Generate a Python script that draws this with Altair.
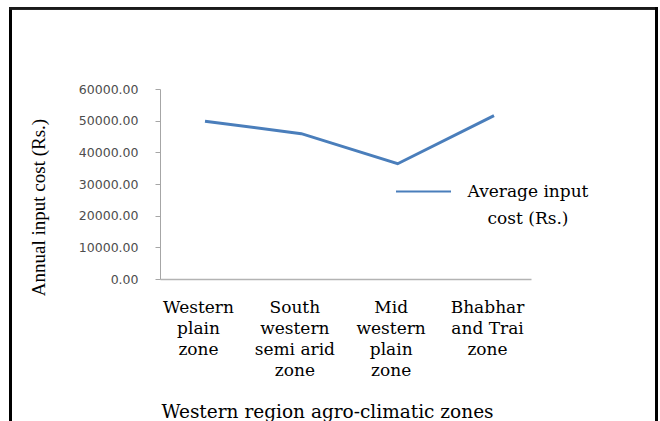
import altair as alt
import pandas as pd

# Agro-climatic zones of the western region (label lines as printed under each point)
zone_lines = [
    ["Western", "plain", "zone"],
    ["South", "western", "semi arid", "zone"],
    ["Mid", "western", "plain", "zone"],
    ["Bhabhar", "and Trai", "zone"],
]
zones = [" ".join(z) for z in zone_lines]

# Average annual input cost per zone (Rs.)
avg_input_cost = [49800, 45900, 36400, 51600]

series_lines = ["Average input", "cost (Rs.)"]
series_name = " ".join(series_lines)

y_ticks = [0, 10000, 20000, 30000, 40000, 50000, 60000]

df = pd.DataFrame({
    "pos": list(range(len(zones))),
    "zone": zones,
    "cost": avg_input_cost,
    "series": series_name,
})

SERIF = "DejaVu Serif"
BLUE = "#4a7ebb"

x_label_expr = "[" + ",".join(
    "[" + ",".join("'" + s + "'" for s in z) + "]" for z in zone_lines
) + "][datum.value]"
legend_label_expr = "[" + ",".join("'" + s + "'" for s in series_lines) + "]"

line = alt.Chart(df).mark_line(strokeWidth=3).encode(
    x=alt.X(
        "pos:Q",
        scale=alt.Scale(domain=[-0.467, 3.384], nice=False, zero=False),
        axis=alt.Axis(
            values=list(range(len(zones))),
            labelExpr=x_label_expr,
            ticks=False,
            grid=False,
            domainColor="#b3b3b3",
            domainWidth=1.5,
            labelFont=SERIF,
            labelFontSize=17,
            labelColor="#000000",
            labelBaseline="alphabetic",
            labelAlign="center",
            labelPadding=33,
            labelLineHeight=21.3,
            labelOffset=-7,
            labelOverlap=False,
            labelFlush=False,
            title="Western region agro-climatic zones",
            titleFont=SERIF,
            titleFontSize=18.5,
            titleFontWeight="normal",
            titleColor="#000000",
            titleX=167,
            titleY=138,
            titleAlign="center",
            titleBaseline="alphabetic",
        ),
    ),
    y=alt.Y(
        "cost:Q",
        scale=alt.Scale(domain=[0, 60000], nice=False),
        axis=alt.Axis(
            values=y_ticks,
            format=".2f",
            grid=False,
            domainColor="#a6a6a6",
            tickColor="#a6a6a6",
            tickSize=5,
            labelFont="DejaVu Sans",
            labelFontSize=12.5,
            labelColor="#4d4d4d",
            labelPadding=17,
            title="Annual input cost (Rs.)",
            titleFont="Liberation Serif",
            titleFontSize=19,
            titleFontWeight="normal",
            titleColor="#000000",
            titleX=-116,
            titleY=118,
            titleAngle=270,
            titleAlign="center",
            titleBaseline="alphabetic",
        ),
    ),
    color=alt.Color(
        "series:N",
        scale=alt.Scale(range=[BLUE]),
        legend=alt.Legend(
            title=None,
            orient="none",
            legendX=235,
            legendY=74,
            padding=0,
            symbolType="stroke",
            symbolSize=3025,
            symbolStrokeWidth=2,
            labelExpr=legend_label_expr,
            labelFont=SERIF,
            labelFontSize=17,
            labelColor="#000000",
            labelAlign="center",
            labelBaseline="middle",
            labelOffset=76,
            labelLimit=0,
        ),
    ),
)

# Black page frame around the figure
frame_left = alt.Chart(df).mark_rule(color="#000000", strokeWidth=3).encode(
    x=alt.value(-149.5), y=alt.value(-82), y2=alt.value(340)
)
frame_top = alt.Chart(df).mark_rule(color="#1a1a1a", strokeWidth=2.5).encode(
    x=alt.value(-151), x2=alt.value(498), y=alt.value(-80.8)
)
frame_right = alt.Chart(df).mark_rule(color="#000000", strokeWidth=3).encode(
    x=alt.value(496.5), y=alt.value(-82), y2=alt.value(340)
)

chart = alt.layer(line, frame_left, frame_top, frame_right).properties(
    width=371,
    height=190,
    autosize=alt.AutoSizeParams(type="none"),
    padding={"left": 160, "top": 89, "right": 129, "bottom": 142},
    background="#ffffff",
).configure(
    view=alt.ViewConfig(stroke=None),
    style={"guide-label": {"lineHeight": 27}},
)

chart.save("out.html", embed_options={"renderer": "svg", "actions": False})
